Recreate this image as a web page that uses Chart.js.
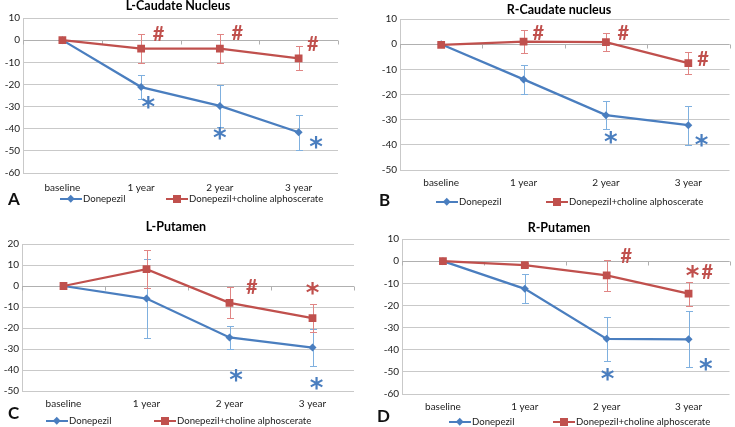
<!DOCTYPE html>
<html><head><meta charset="utf-8">
<script src="https://cdn.jsdelivr.net/npm/chart.js@4.4.1/dist/chart.umd.min.js"></script>
<style>
body{margin:0;background:#fff;}
#wrap{position:relative;width:735px;height:427px;overflow:hidden;font-family:Lato,'Open Sans',sans-serif;background:#fff;}
canvas{position:absolute;}
.leg{position:absolute;font-size:9.6px;color:#222;white-space:nowrap;line-height:12px;height:12px;}
.leg svg{position:absolute;top:1px;}
.letter{position:absolute;font-weight:bold;font-size:17px;line-height:18px;color:#111;}
.ttl{position:absolute;width:240px;margin-left:-120px;text-align:center;font-weight:bold;font-size:12.5px;line-height:14px;color:#000;white-space:nowrap;}
</style></head>
<body>
<div id="wrap">
<canvas id="cA" width="368" height="213" style="left:0;top:0"></canvas>
<canvas id="cB" width="367" height="213" style="left:368px;top:0"></canvas>
<canvas id="cC" width="368" height="214" style="left:0;top:213px"></canvas>
<canvas id="cD" width="367" height="214" style="left:368px;top:213px"></canvas>
</div>
<script>
// ---------- data ----------
const categories = ['baseline', '1 year', '2 year', '3 year'];
const seriesNames = ['Donepezil', 'Donepezil+choline alphoscerate'];
const panelTitles = ['L-Caudate Nucleus', 'R-Caudate nucleus', 'L-Putamen', 'R-Putamen'];
const panelLetters = ['A', 'B', 'C', 'D'];

// A: L-Caudate Nucleus
const lcnDonepezil = [0, -21.2, -29.7, -41.6];
const lcnDonepezilSD = [0, 5.3, 9.5, 7.9];
const lcnCombo = [0, -3.8, -3.8, -8.2];
const lcnComboSD = [0, 6.7, 6.7, 5.4];
const lcnDonepezilSig = [[1.09, -28, '*'], [2.0, -42, '*'], [3.22, -46, '*']];
const lcnComboSig = [[1.22, 3.2, '#'], [2.22, 3.5, '#'], [3.18, -1.4, '#']];

// B: R-Caudate nucleus
const rcnDonepezil = [0, -14, -28.2, -32.2];
const rcnDonepezilSD = [0, 5.7, 5.5, 7.7];
const rcnCombo = [-0.3, 1.0, 0.8, -7.5];
const rcnComboSD = [0, 4.5, 3.5, 4.3];
const rcnDonepezilSig = [[2.06, -37, '*'], [3.16, -38.4, '*']];
const rcnComboSig = [[1.18, 4.8, '#'], [2.21, 4.6, '#'], [3.18, -5.6, '#']];

// C: L-Putamen
const lpDonepezil = [0, -6, -24.5, -29.3];
const lpDonepezilSD = [0, 19, 5.5, 8.8];
const lpCombo = [0, 8, -8, -15.3];
const lpComboSD = [0, 9, 7.3, 6.8];
const lpDonepezilSig = [[2.08, -42.5, '*'], [3.05, -46.5, '*']];
const lpComboSig = [[2.27, 0, '#'], [3.0, -1, '*']];

// D: R-Putamen
const rpDonepezil = [0, -12.5, -35.1, -35.3];
const rpDonepezilSD = [0, 6.5, 9.9, 12.6];
const rpCombo = [0, -1.8, -6.4, -14.7];
const rpComboSD = [0, 1, 6.9, 5.5];
const rpDonepezilSig = [[2.01, -51, '*'], [3.21, -46.5, '*']];
const rpComboSig = [[2.24, 2.7, '#'], [3.05, -4.8, '*'], [3.23, -4.8, '#']];

// ---------- styles ----------
const BLUE = '#4A7EBF', BLUE_ERR = '#7FB0DF';
const RED = '#C0504D', RED_ERR = '#E08584';
const GRID = '#c9c9c9';
const FONT = 'Lato, "Open Sans", sans-serif';
const MARK_FONT = '"DejaVu Sans", Lato, sans-serif';

const errorBars = {
  id: 'errorBars',
  beforeDatasetsDraw(chart) {
    const ctx = chart.ctx, ys = chart.scales.y;
    chart.data.datasets.forEach((ds, i) => {
      if (!ds.errors) return;
      const meta = chart.getDatasetMeta(i);
      ctx.save();
      ctx.strokeStyle = ds.errorColor;
      ctx.lineWidth = 1;
      meta.data.forEach((pt, j) => {
        const e = ds.errors[j];
        if (!e) return;
        const v = ds.data[j];
        const yt = Math.round(ys.getPixelForValue(v + e)) + 0.5;
        const yb = Math.round(ys.getPixelForValue(v - e)) + 0.5;
        const x = Math.round(pt.x) + 0.5;
        ctx.beginPath();
        ctx.moveTo(x, yt); ctx.lineTo(x, yb);
        ctx.moveTo(x - 3.5, yt); ctx.lineTo(x + 3.5, yt);
        ctx.moveTo(x - 3.5, yb); ctx.lineTo(x + 3.5, yb);
        ctx.stroke();
      });
      ctx.restore();
    });
  }
};

const zeroAxis = {
  id: 'zeroAxis',
  beforeDatasetsDraw(chart) {
    const ctx = chart.ctx, xs = chart.scales.x, ys = chart.scales.y;
    const y0 = Math.round(ys.getPixelForValue(0)) + 0.5;
    ctx.save();
    ctx.strokeStyle = '#b0b0b0';
    ctx.lineWidth = 1;
    ctx.beginPath();
    ctx.moveTo(chart.chartArea.left, y0); ctx.lineTo(chart.chartArea.right, y0);
    for (let i = 0; i <= categories.length; i++) {
      const x = Math.round(xs.getPixelForValue(i - 0.5)) + 0.5;
      ctx.moveTo(x, y0); ctx.lineTo(x, y0 + 4);
    }
    ctx.stroke();
    ctx.restore();
  }
};

const sigMarks = {
  id: 'sigMarks',
  afterDatasetsDraw(chart) {
    const ctx = chart.ctx, xs = chart.scales.x, ys = chart.scales.y;
    chart.data.datasets.forEach((ds) => {
      if (!ds.marks) return;
      ds.marks.forEach(([cx, vy, s]) => {
        const px = xs.getPixelForValue(cx), py = ys.getPixelForValue(vy);
        const target = s === '#' ? 15 : 13;
        const fam = s === '#' ? FONT : MARK_FONT;
        ctx.save();
        ctx.font = 'bold 20px ' + fam;
        let m = ctx.measureText(s);
        let h = m.actualBoundingBoxAscent + m.actualBoundingBoxDescent;
        const size = 20 * target / h;
        ctx.font = 'bold ' + size.toFixed(1) + 'px ' + fam;
        m = ctx.measureText(s);
        const asc = m.actualBoundingBoxAscent, desc = m.actualBoundingBoxDescent;
        ctx.fillStyle = ds.markColor;
        ctx.textAlign = 'center';
        ctx.textBaseline = 'alphabetic';
        ctx.fillText(s, px, py + (asc - desc) / 2);
        ctx.restore();
      });
    });
  }
};

function makePanel(cfg) {
  const c = document.getElementById(cfg.id);
  const L = cfg.layout;
  new Chart(c, {
    type: 'line',
    data: {
      labels: categories,
      datasets: [
        {
          label: seriesNames[0], data: cfg.don, errors: cfg.donSD, marks: cfg.donSig,
          borderColor: BLUE, backgroundColor: BLUE, errorColor: BLUE_ERR, markColor: BLUE,
          borderWidth: 2.25, pointStyle: 'rectRot', pointRadius: 4, pointBorderWidth: 0,
          tension: 0, order: 2
        },
        {
          label: seriesNames[1], data: cfg.combo, errors: cfg.comboSD, marks: cfg.comboSig,
          borderColor: RED, backgroundColor: RED, errorColor: RED_ERR, markColor: RED,
          borderWidth: 2.25, pointStyle: 'rect', pointRadius: 5.5, pointBorderWidth: 0,
          tension: 0, order: 1
        }
      ]
    },
    options: {
      responsive: false, animation: false, devicePixelRatio: 1,
      layout: { padding: { left: 0, right: L.padR, top: L.padT, bottom: L.padB } },
      plugins: {
        legend: { display: false },
        tooltip: { enabled: false },
        title: { display: false }
      },
      scales: {
        x: {
          offset: true,
          grid: { display: false, drawTicks: false },
          border: { display: false },
          ticks: { color: '#222', font: { family: FONT, size: 10 }, padding: L.xPad, maxRotation: 0 },
          afterFit(s) { s.height = 22; }
        },
        y: {
          min: cfg.yMin, max: cfg.yMax,
          ticks: { stepSize: 10, color: '#222', font: { family: FONT, size: 10 }, padding: 3 },
          grid: { color: GRID, drawTicks: false, lineWidth: 1 },
          border: { display: true, color: GRID },
          afterFit(s) { s.width = L.yW; }
        }
      }
    },
    plugins: [zeroAxis, errorBars, sigMarks]
  });
}

makePanel({ id: 'cA', don: lcnDonepezil, donSD: lcnDonepezilSD, combo: lcnCombo, comboSD: lcnComboSD,
  donSig: lcnDonepezilSig, comboSig: lcnComboSig, yMin: -60, yMax: 10,
  layout: { padR: 30, padT: 18, padB: 18, yW: 23, xPad: 9 } });
makePanel({ id: 'cB', don: rcnDonepezil, donSD: rcnDonepezilSD, combo: rcnCombo, comboSD: rcnComboSD,
  donSig: rcnDonepezilSig, comboSig: rcnComboSig, yMin: -50, yMax: 10,
  layout: { padR: 5, padT: 19, padB: 21, yW: 32, xPad: 7 } });
makePanel({ id: 'cC', don: lpDonepezil, donSD: lpDonepezilSD, combo: lpCombo, comboSD: lpComboSD,
  donSig: lpDonepezilSig, comboSig: lpComboSig, yMin: -50, yMax: 20,
  layout: { padR: 14, padT: 31, padB: 14, yW: 22, xPad: 7 } });
makePanel({ id: 'cD', don: rpDonepezil, donSD: rpDonepezilSD, combo: rpCombo, comboSD: rpComboSD,
  donSig: rpDonepezilSig, comboSig: rpComboSig, yMin: -60, yMax: 10,
  layout: { padR: 1, padT: 26, padB: 11, yW: 34, xPad: 7 } });

// ---------- titles & legends (HTML text) ----------
const wrap = document.getElementById('wrap');
function title(i, cx, cy) {
  const t = document.createElement('div');
  t.className = 'ttl'; t.textContent = panelTitles[i];
  t.style.left = cx + 'px'; t.style.top = (cy - 7) + 'px';
  wrap.appendChild(t);
}
function icon(color, shape) {
  const mk = shape === 'diamond'
    ? `<rect x="8" y="2" width="5.5" height="5.5" fill="${color}" transform="rotate(45 10.75 4.75)"/>`
    : `<rect x="7" y="1" width="8" height="8" fill="${color}"/>`;
  return `<svg width="22" height="10" viewBox="0 0 22 10"><line x1="0" y1="5" x2="22" y2="5" stroke="${color}" stroke-width="2"/>${mk}</svg>`;
}
function legend(i, lx, ly, yC, x1, x2) {
  const a = document.createElement('div');
  a.className = 'letter'; a.textContent = panelLetters[i];
  a.style.left = lx + 'px'; a.style.top = (ly - 9) + 'px';
  wrap.appendChild(a);
  [[x1, BLUE, 'diamond', seriesNames[0]], [x2, RED, 'square', seriesNames[1]]].forEach(([x, col, sh, name]) => {
    const d = document.createElement('div');
    d.className = 'leg';
    d.style.left = x + 'px'; d.style.top = (yC - 6) + 'px';
    d.innerHTML = icon(col, sh) + `<span style="margin-left:23px">${name}</span>`;
    wrap.appendChild(d);
  });
}
title(0, 178, 6); title(1, 559, 10); title(2, 176, 227); title(3, 559, 228);
legend(0, 8, 199, 199, 60, 166);
legend(1, 379, 200, 202, 436, 546);
legend(2, 8, 413, 421, 46, 154);
legend(3, 377, 416, 422, 449, 553);
</script>
</body></html>
